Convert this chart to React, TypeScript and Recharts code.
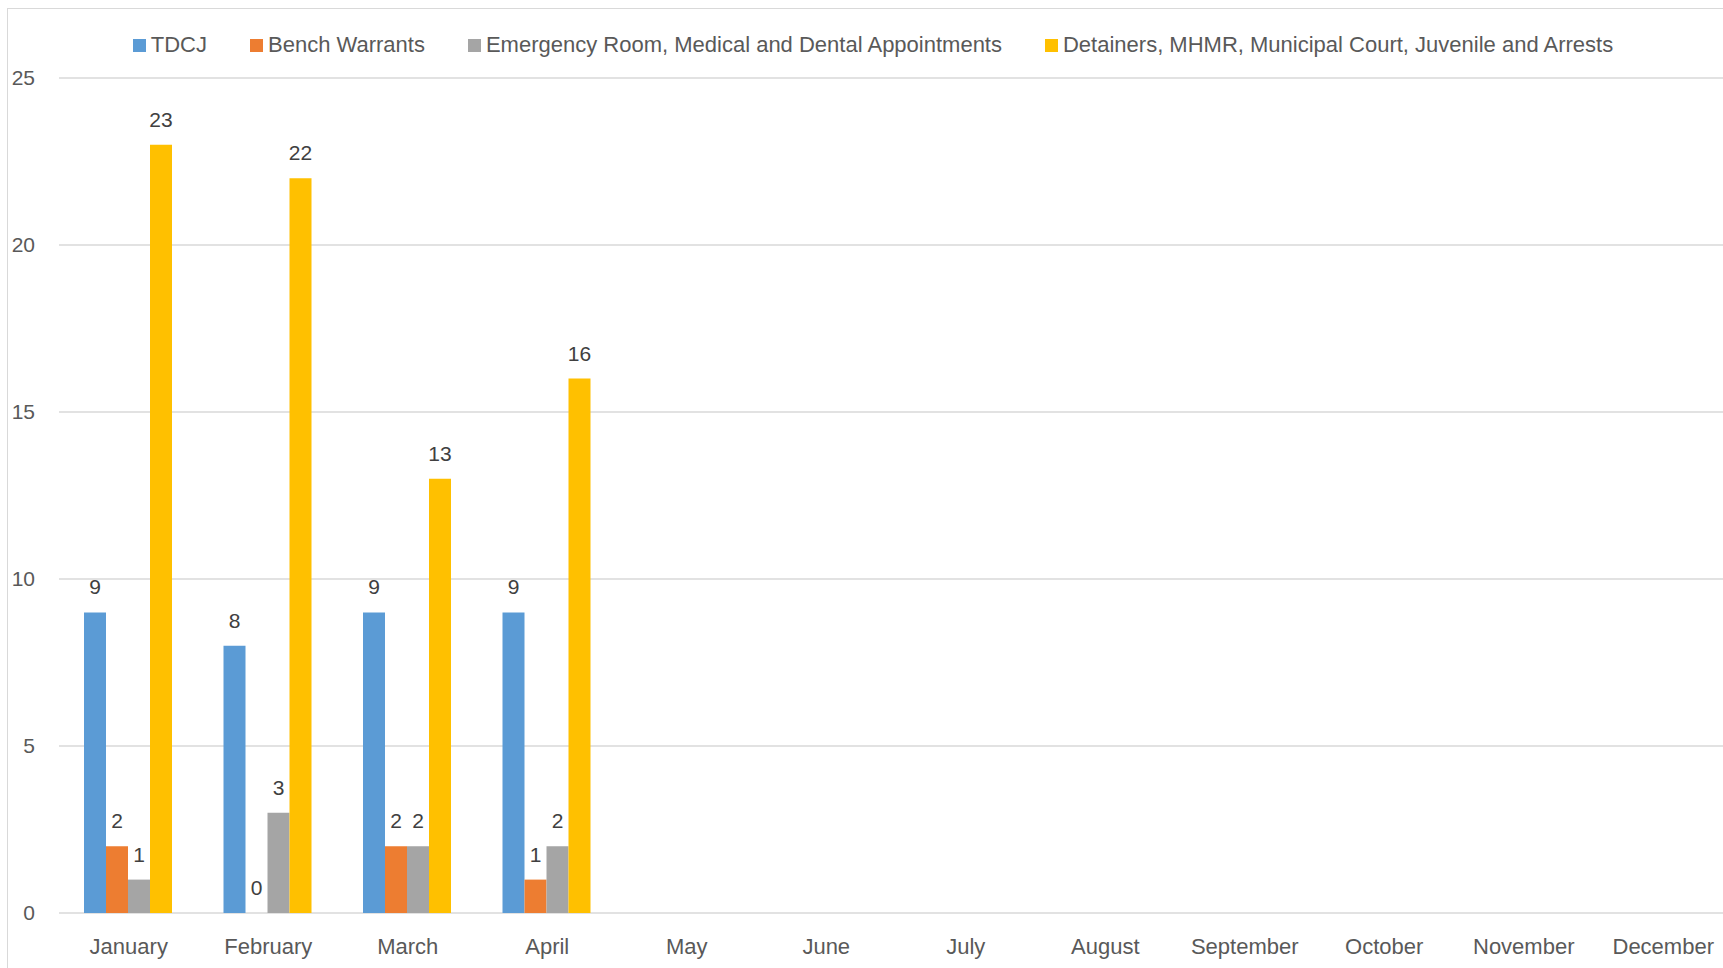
import React from 'react'
import { BarChart, Bar, XAxis, YAxis, CartesianGrid, LabelList } from 'recharts'

const months = [
  'January', 'February', 'March', 'April', 'May', 'June',
  'July', 'August', 'September', 'October', 'November', 'December',
]

// only Jan-Apr reported so far
const tdcj = [9, 8, 9, 9]
const benchWarrants = [2, 0, 2, 1]
const emergencyRoom = [1, 3, 2, 2]
const detainers = [23, 22, 13, 16]

const yTicks = [0, 5, 10, 15, 20, 25]

const seriesList = [
  { key: 'tdcj', name: 'TDCJ', color: '#5B9BD5', values: tdcj },
  { key: 'bench', name: 'Bench Warrants', color: '#ED7D31', values: benchWarrants },
  { key: 'er', name: 'Emergency Room, Medical and Dental Appointments', color: '#A5A5A5', values: emergencyRoom },
  { key: 'detainers', name: 'Detainers, MHMR, Municipal Court, Juvenile and Arrests', color: '#FFC000', values: detainers },
]

const FONT = '"Liberation Sans", Arial, sans-serif'

const chartData = months.map((m, i) => {
  const row: Record<string, string | number | null> = { month: m }
  seriesList.forEach(s => {
    row[s.key] = i < s.values.length ? s.values[i] : null
  })
  return row
})

const renderValue = (props: any) => {
  const { x, y, width, value } = props
  if (value === null || value === undefined) return null
  return (
    <text
      x={Number(x) + Number(width) / 2}
      y={Number(y) - 18}
      textAnchor="middle"
      fill="#404040"
      fontSize={21}
      fontFamily={FONT}
    >
      {value}
    </text>
  )
}

// keep zero-valued bars so their "0" label is still drawn
const zeroBar = (v: any) => (v === 0 ? 0.01 : 0)

function Legend() {
  return (
    <div
      style={{
        position: 'absolute',
        top: 32,
        left: 0,
        width: 1746,
        display: 'flex',
        justifyContent: 'center',
        alignItems: 'center',
        gap: 43,
        fontFamily: FONT,
        fontSize: 22,
        lineHeight: '26px',
        color: '#595959',
        whiteSpace: 'nowrap',
      }}
    >
      {seriesList.map(s => (
        <div key={s.key} style={{ display: 'flex', alignItems: 'center', gap: 5 }}>
          <span style={{ width: 13, height: 13, background: s.color, display: 'inline-block' }} />
          <span>{s.name}</span>
        </div>
      ))}
    </div>
  )
}

export default function App() {
  return (
    <div
      style={{
        position: 'fixed',
        left: 0,
        top: 0,
        width: 1723,
        height: 968,
        overflow: 'hidden',
        background: '#fff',
      }}
    >
      <div
        style={{
          position: 'absolute',
          left: 7,
          top: 8,
          width: 1800,
          height: 1000,
          borderLeft: '1px solid #D9D9D9',
          borderTop: '1px solid #D9D9D9',
        }}
      />
      <Legend />
      <BarChart
        width={1760}
        height={968}
        data={chartData}
        margin={{ top: 78, right: 27, bottom: 0, left: 0 }}
        barCategoryGap={25}
        barGap={0}
        style={{ position: 'absolute', left: 0, top: 0 }}
      >
        <CartesianGrid vertical={false} stroke="#D9D9D9" strokeWidth={1.5} />
        <XAxis
          dataKey="month"
          axisLine={false}
          tickLine={false}
          tickSize={0}
          tickMargin={25}
          height={55}
          interval={0}
          tick={{ fontSize: 22, fill: '#595959', fontFamily: FONT }}
        />
        <YAxis
          domain={[0, 25]}
          ticks={yTicks}
          axisLine={false}
          tickLine={false}
          tickSize={0}
          tickMargin={24}
          width={59}
          tick={{ fontSize: 21, fill: '#595959', fontFamily: FONT }}
        />
        {seriesList.map(s => (
          <Bar
            key={s.key}
            dataKey={s.key}
            name={s.name}
            fill={s.color}
            minPointSize={zeroBar}
            isAnimationActive={false}
          >
            <LabelList dataKey={s.key} content={renderValue} />
          </Bar>
        ))}
      </BarChart>
    </div>
  )
}
